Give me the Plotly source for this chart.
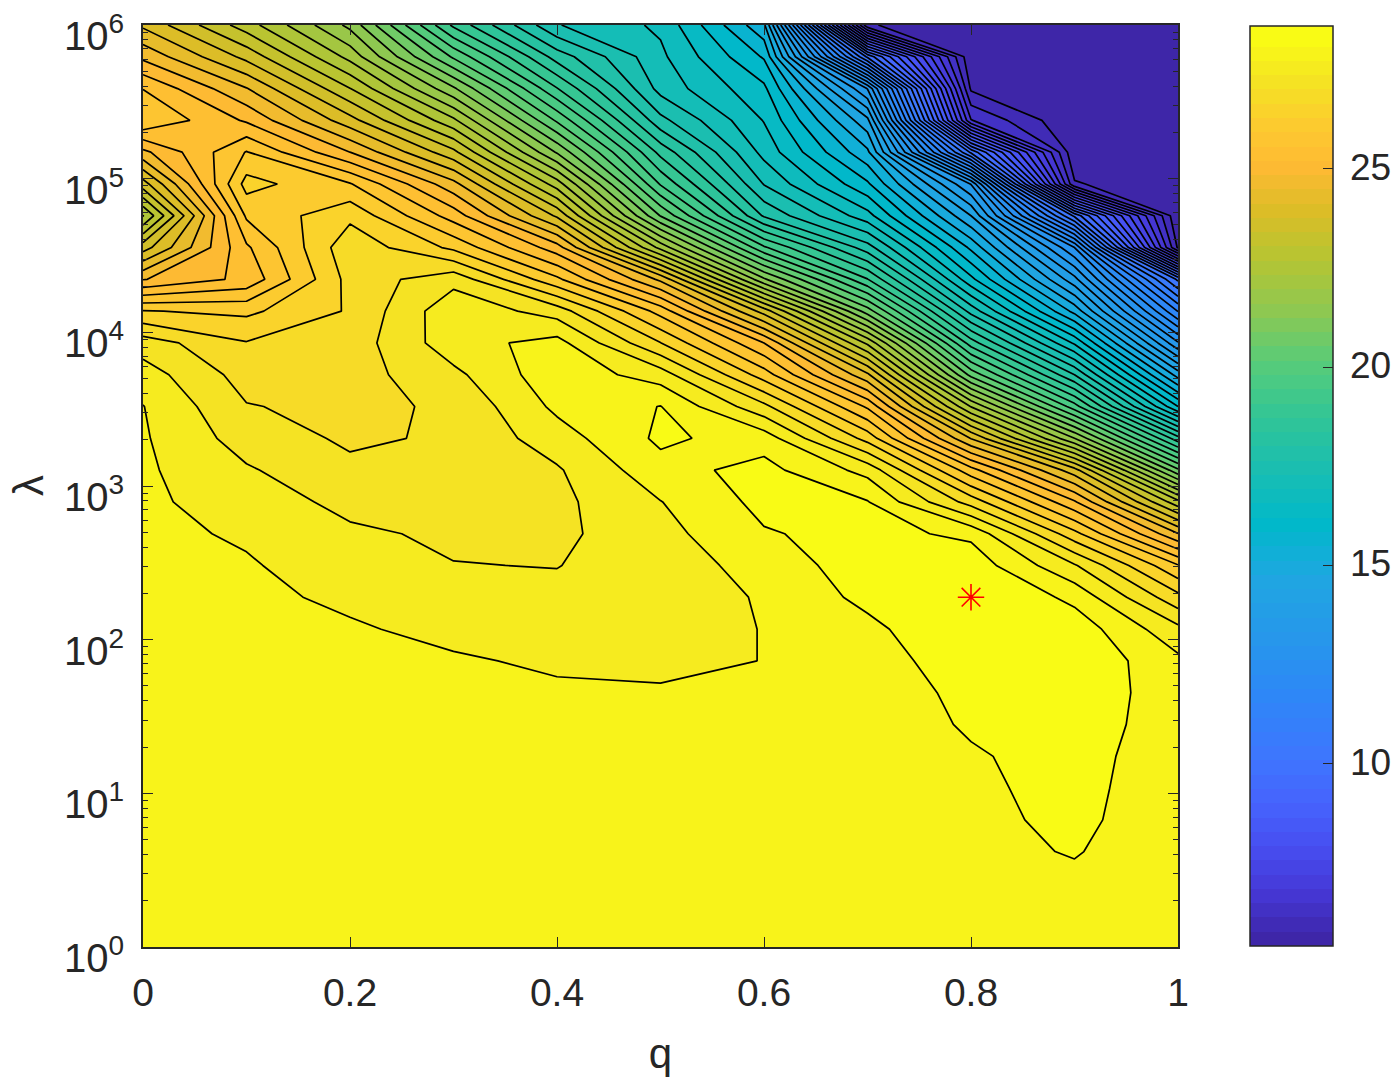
import math
import numpy as np
import plotly.graph_objects as go

q_vals = [0, 0.1, 0.2, 0.3, 0.4, 0.5, 0.6, 0.7, 0.8, 0.9, 1]
lam_vals = [1, 1.61, 2.59, 4.18, 6.72, 10.8, 17.4, 28.1, 45.2, 72.8,
            117, 189, 304, 489, 788, 1269, 2043, 3290, 5298, 8532,
            13738, 22122, 35622, 57362, 92367, 148735, 239503, 385662, 621017, 1000000]

# one list per q column, from lambda = 1 upwards
z_q00 = [27.78, 27.78, 27.79, 27.8, 27.8, 27.8, 27.8, 27.8, 27.8, 27.8, 27.8, 27.8, 27.8, 27.8, 27.79,
         27.78, 27.76, 27.73, 27.53, 27.18, 26.3, 24.82, 23.6, 22.3, 23.6, 24.75, 25.9, 25.55, 24.75, 24.05]
z_q01 = [27.8, 27.8, 27.8, 27.8, 27.8, 27.8, 27.8, 27.8, 27.8, 27.8, 27.8, 27.78, 27.75, 27.68, 27.55,
         27.4, 27.2, 27.02, 26.85, 26.66, 26.2, 25.3, 25.5, 25.98, 26.42, 25.94, 25.15, 24.5, 23.65, 22.85]
z_q02 = [27.8, 27.8, 27.8, 27.8, 27.8, 27.8, 27.8, 27.8, 27.8, 27.79, 27.75, 27.67, 27.56, 27.42, 27.26,
         27.08, 26.94, 26.9, 26.84, 26.8, 26.68, 26.77, 26.9, 26.55, 25.95, 24.84, 23.9, 23.05, 22.2, 21.5]
z_q03 = [27.8, 27.8, 27.8, 27.8, 27.8, 27.8, 27.8, 27.8, 27.8, 27.75, 27.65, 27.5, 27.37, 27.3, 27.25,
         27.2, 27.05, 27.06, 27.27, 27.57, 27.62, 27.24, 26.2, 25.4, 24.6, 23.5, 22.4, 21.3, 20.1, 19.0]
z_q04 = [27.8, 27.8, 27.8, 27.8, 27.8, 27.8, 27.8, 27.8, 27.76, 27.68, 27.56, 27.45, 27.35, 27.28, 27.27,
         27.32, 27.55, 27.8, 27.96, 27.85, 27.2, 26.0, 25.0, 23.7, 22.5, 21.2, 20.1, 19.1, 18.2, 17.3]
z_q05 = [27.8, 27.8, 27.8, 27.8, 27.8, 27.8, 27.8, 27.8, 27.75, 27.65, 27.58, 27.55, 27.56, 27.6, 27.71,
         27.95, 28.15, 28.09, 27.55, 26.65, 25.78, 24.4, 22.2, 20.5, 19.4, 18.6, 17.75, 17.15, 17.0, 16.85]
z_q06 = [27.82, 27.82, 27.82, 27.82, 27.82, 27.82, 27.82, 27.82, 27.78, 27.725, 27.73, 27.75, 27.84, 28.05, 28.18,
         28.2, 27.92, 27.1, 26.1, 25.2, 23.6, 21.3, 19.5, 17.95, 17.26, 16.8, 16.54, 16.28, 15.8, 15.2]
z_q07 = [27.84, 27.84, 27.84, 27.84, 27.84, 27.84, 27.84, 27.74, 27.73, 27.82, 27.98, 28.18, 28.3, 28.2, 28.1,
         27.6, 26.5, 25.5, 24.2, 22.6, 20.7, 19.1, 17.8, 16.7, 15.9, 15.2, 14.5, 13.3, 10.0, 5.8]
z_q08 = [27.82, 27.84, 27.87, 27.95, 27.95, 27.98, 28.02, 28.15, 28.25, 28.4, 28.45, 28.52, 28.3, 28.0, 26.85,
         25.7, 24.1, 22.3, 20.4, 18.9, 17.5, 16.3, 15.4, 14.4, 13.3, 10.0, 6.5, 5.7, 5.45, 5.42]
z_q09 = [27.82, 27.85, 27.98, 28.11, 28.2, 28.25, 28.3, 28.4, 28.45, 28.38, 28.3, 27.98, 27.4, 26.4, 25.25,
         23.9, 21.6, 19.6, 18.0, 16.5, 15.0, 13.8, 12.6, 10.0, 5.8, 5.45, 5.42, 5.42, 5.42, 5.42]
z_q10 = [27.78, 27.78, 27.78, 27.78, 27.76, 27.75, 27.75, 27.76, 27.77, 27.8, 27.46, 26.75, 25.95, 24.5, 22.8,
         20.6, 18.5, 16.2, 14.6, 13.0, 11.5, 10.0, 5.7, 5.42, 5.42, 5.42, 5.42, 5.42, 5.42, 5.42]

star_q = [0.8]
star_lam = [189]

x_ticks = [0, 0.2, 0.4, 0.6, 0.8, 1]
x_labels = ["0", "0.2", "0.4", "0.6", "0.8", "1"]
y_ticks = [1, 10, 100, 1000, 10000, 100000, 1000000]
y_labels = ["10<sup>0</sup>", "10<sup>1</sup>", "10<sup>2</sup>", "10<sup>3</sup>",
            "10<sup>4</sup>", "10<sup>5</sup>", "10<sup>6</sup>"]
cbar_ticks = [10, 15, 20, 25]

z = np.array([z_q00, z_q01, z_q02, z_q03, z_q04, z_q05, z_q06, z_q07, z_q08, z_q09, z_q10]).T

# old matlab parula
parula = [[0, "rgb(62,38,168)"], [0.05, "rgb(69,55,212)"], [0.1, "rgb(71,77,240)"], [0.15, "rgb(70,99,253)"],
          [0.2, "rgb(62,117,254)"], [0.27, "rgb(46,135,247)"], [0.33, "rgb(39,150,235)"], [0.4, "rgb(32,166,226)"],
          [0.46, "rgb(1,184,202)"], [0.52, "rgb(25,190,178)"], [0.58, "rgb(49,197,150)"], [0.64, "rgb(87,204,122)"],
          [0.7, "rgb(143,200,80)"], [0.76, "rgb(185,196,49)"], [0.81, "rgb(220,189,39)"], [0.86, "rgb(255,186,52)"],
          [0.91, "rgb(252,205,46)"], [0.95, "rgb(245,226,36)"], [1, "rgb(249,251,21)"]]

text_col = "#262626"
levels = dict(start=5.76, end=28.08, size=0.36)

fig = go.Figure()
fig.add_trace(go.Contour(
    x=q_vals, y=lam_vals, z=z, zauto=False, zmin=5.4, zmax=28.6, colorscale=parula,
    contours=dict(levels, coloring="fill", showlines=False),
    line=dict(width=0, smoothing=0), hoverinfo="skip",
    colorbar=dict(x=1.0696, xanchor="left", xpad=0, ypad=0, y=0.5, yanchor="middle", len=0.998,
                  thickness=83, tickvals=cbar_ticks, ticks="inside", ticklen=10, tickcolor=text_col,
                  showticklabels=False, outlinecolor=text_col, outlinewidth=1.5),
))
fig.add_trace(go.Contour(
    x=q_vals, y=lam_vals, z=z, showscale=False,
    contours=dict(levels, coloring="none", showlines=True),
    line=dict(color="black", width=1.7, smoothing=0), hoverinfo="skip",
))
fig.add_trace(go.Scatter(
    x=star_q, y=star_lam, mode="markers", showlegend=False,
    marker=dict(symbol="asterisk-open", size=22, color="red", line=dict(color="red", width=1.6)),
))

fig.update_layout(
    width=1396, height=1084, margin=dict(l=143, r=218, t=25, b=137, autoexpand=False),
    paper_bgcolor="white", plot_bgcolor="white", showlegend=False,
    font=dict(family="Liberation Sans", color=text_col),
    xaxis=dict(range=[0, 1], tickvals=x_ticks, ticktext=x_labels, ticks="inside", ticklen=10, tickwidth=1.3,
               tickcolor=text_col, showline=True, linecolor=text_col, linewidth=1.5, mirror="ticks",
               showgrid=False, zeroline=False, ticklabelstandoff=10, tickfont=dict(size=39, color=text_col),
               title=dict(text="q", font=dict(size=42, color=text_col), standoff=26)),
    yaxis=dict(type="log", range=[0, 6], tickvals=y_ticks, showticklabels=False, ticks="inside", ticklen=10,
               tickwidth=1.3, tickcolor=text_col, showline=True, linecolor=text_col, linewidth=1.5, mirror="ticks",
               showgrid=False, zeroline=False,
               minor=dict(ticks="inside", dtick="D1", ticklen=5, tickcolor=text_col, tickwidth=1.2, showgrid=False)),
)

# tick labels sit a little under the tick in the original, so they are placed by hand
for val, lab in zip(y_ticks, y_labels):
    fig.add_annotation(x=0, xref="paper", y=math.log10(val), yref="y", text=lab, showarrow=False,
                       xanchor="right", yanchor="middle", xshift=-17, yshift=-8,
                       font=dict(size=40, color=text_col))
# colorbar labels need a wider gap than plotly gives, 5 units is about 198 px on the bar
for val in cbar_ticks:
    fig.add_annotation(x=1.1645, xref="paper", y=(947 - (167 + (25 - val) * 39.67)) / 922, yref="paper",
                       text=str(val), showarrow=False, xanchor="left", yanchor="middle",
                       font=dict(size=37, color=text_col))
fig.add_annotation(x=-0.111, xref="paper", y=0.5, yref="paper", text="λ", textangle=-90, showarrow=False,
                   xanchor="center", yanchor="middle", font=dict(size=42, color=text_col))

fig.write_html("out.html", post_script="document.body.style.margin='0'", config=dict(displayModeBar=False))
